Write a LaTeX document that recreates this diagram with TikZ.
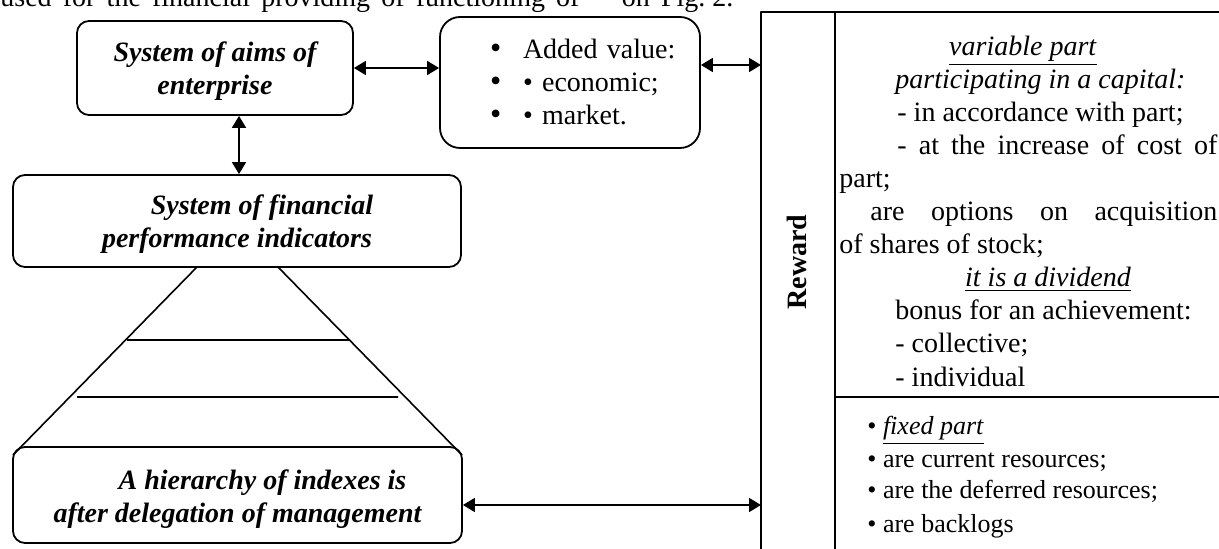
\documentclass[tikz,border=0pt]{standalone}
\usepackage{fontspec}
\setmainfont{Liberation Serif}
\usetikzlibrary{arrows.meta,positioning}

\tikzset{
  goal/.style={draw, rounded corners=6pt, line width=0.9pt, align=center, inner sep=0pt,
    text height=27pt, text depth=0pt, font=\fontsize{14}{16.5}\selectfont\bfseries\itshape},
  both/.style={{Triangle[length=6pt,width=7pt]}-{Triangle[length=6pt,width=7pt]}, line width=0.9pt},
  line/.style={anchor=base west, inner sep=0pt, font=\fontsize{14}{16.5}\selectfont},
  mid/.style={anchor=base, inner sep=0pt, font=\fontsize{14}{16.5}\selectfont},
  small/.style={anchor=base west, inner sep=0pt, font=\fontsize{13}{16}\selectfont},
}
\newcommand{\bigdot}{\makebox[16.5pt][l]{\fontsize{16}{16}\selectfont\textbullet}}

\begin{document}
\begin{tikzpicture}[x=0.5pt, y=-0.5pt, line join=round]
\useasboundingbox (0,0) rectangle (1219,549);
\clip (0,0) rectangle (1219,549);
% page text cut by the top edge
\node[line] (page) at (0,7) {\makebox[366.5pt][s]{used for the financial providing of functioning of \hspace{10pt} on Fig.\hspace{3.5pt}2.}};

% boxes
\node[goal, minimum width=138pt, minimum height=47pt] (aims) at (215,68) {System of aims of\\enterprise};
\node[goal, rounded corners=10pt, minimum width=130pt, minimum height=65.5pt, align=left,
  text width=80pt, text height=9.6pt, text depth=33.5pt, font=\fontsize{14}{16.5}\selectfont] (value) at (570,82.5)
  {\mbox{\bigdot Added value:}\\
   \mbox{\bigdot\textbullet{} economic;}\\
   \mbox{\bigdot\textbullet{} market.}};
\node[goal, minimum width=224pt, minimum height=46pt] (fin) at (237,221)
  {\hspace*{25pt}System of financial\\performance indicators};
\node[goal, minimum width=224.5pt, minimum height=48pt] (hier) at (237.5,495)
  {\hspace*{25pt}A hierarchy of indexes is\\after delegation of management};

% pyramid
\draw[line width=0.8pt] (197,267) -- (13,455) (278,267) -- (462,455)
  (127,340) -- (350,340) (77,397) -- (398,397);

% reward table
\draw[line width=0.9pt] (761,560) -- (761,12) -- (1230,12) (835,12) -- (835,560)
  (835,397) -- (1230,397);
\node[rotate=90, inner sep=0pt, font=\fontsize{14}{16}\selectfont\bfseries] (rewlbl) at (797,262) {Reward};
\coordinate (rewtop) at (761,65);
\coordinate (rewbot) at (761,505);

% connectors
\draw[both] (aims.east) -- (aims.east -| value.west);
\draw[both] (value.east |- rewtop) -- (rewtop);
\draw[both] ([xshift=12pt]aims.south) -- ([xshift=12pt]aims.south |- fin.north);
\draw[both] (hier.east |- rewbot) -- (rewbot);

% variable part
\node[mid] (var) at (1023,56) {\underline{\textit{variable part}}};
\node[line] (cap) at (895,89) {\textit{participating in a capital:}};
\node[line] (acc) at (897,122) {- in accordance with part;};
\node[line] (inc) at (897,155) {\makebox[160pt][s]{- at the increase of cost of}};
\node[line] (inc2) at (839,188) {part;};
\node[line] (opt) at (870,221) {\makebox[173.5pt][s]{are options on acquisition}};
\node[line] (opt2) at (839,254) {of shares of stock;};
\node[mid] (div) at (1048,287) {\underline{\textit{it is a dividend}}};
\node[line] (bon) at (895,320) {bonus for an achievement:};
\node[line] (col) at (895,353) {- collective;};
\node[line] (ind) at (895,387) {- individual};

% fixed part
\node[small] (fix) at (867,435) {\textbullet{} \underline{\textit{fixed part}}};
\node[small] (cur) at (867,467) {\textbullet{} are current resources;};
\node[small] (def) at (867,498) {\textbullet{} are the deferred resources;};
\node[small] (bkl) at (867,532) {\textbullet{} are backlogs};
\end{tikzpicture}
\end{document}
